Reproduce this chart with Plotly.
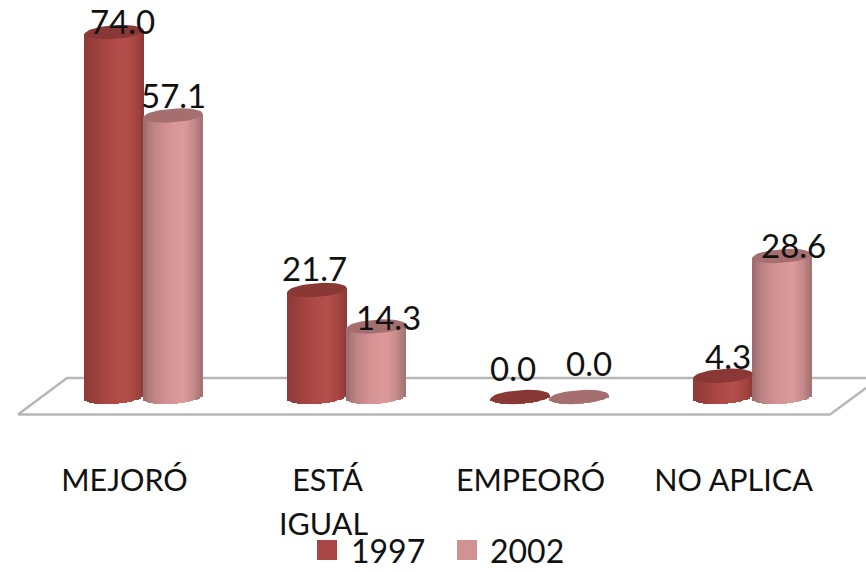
import math
import plotly.graph_objects as go

# ---- data ----
categories = ["MEJORÓ", "ESTÁ<br>IGUAL", "EMPEORÓ", "NO APLICA"]
series_names = ["1997", "2002"]
values_1997 = [74.0, 21.7, 0.0, 4.3]
values_2002 = [57.1, 14.3, 0.0, 28.6]

# ---- layout / style ----
W, H = 866, 572
PLOT_H = 445
FONT = "Lato"
FS = 30.5
FS_NUM = 33
FS_LEGEND = 32
PX_X0, PX_PER_CAT = 143.5, 203.0
PX_Y0, PX_PER_UNIT = 397.0, 4.93
x_range = [-PX_X0 / PX_PER_CAT, (W - PX_X0) / PX_PER_CAT]
y_range = [(PX_Y0 - PLOT_H) / PX_PER_UNIT, PX_Y0 / PX_PER_UNIT]
OFFSET = 0.145
HALF = 0.146
ELL_B = 1.4
TILT = 0.4
N_STRIPS = 24

ramps = {
    "1997": [(-1, "#8c3b3a"), (-0.7, "#973e3c"), (-0.3, "#a84543"), (0.35, "#b54f4b"), (0.75, "#a5443f"), (1, "#8a3a38")],
    "2002": [(-1, "#9a6a6a"), (-0.7, "#bb8283"), (-0.2, "#d49293"), (0.35, "#dd9a9b"), (0.75, "#c08787"), (1, "#a27070")],
}
top_colors = {"1997": "#8a3835", "2002": "#a56f70"}
legend_colors = {"1997": "#a94543", "2002": "#d09292"}
# legend placement, pixels: swatch left edge, text left edge
legend_pos = {"1997": (317, 349), "2002": (457, 488)}
# label offsets from the cap centre, pixels (dx, dy)
label_shift = {
    "1997": [(8, 11), (-2.5, 22), (-7, 29), (4.5, 20)],
    "2002": [(1, 21), (13, 9.5), (10, 34), (12, 11)],
}


def hex2rgb(h):
    return [int(h[i:i + 2], 16) for i in (1, 3, 5)]


def ramp_color(stops, t):
    for (t0, c0), (t1, c1) in zip(stops, stops[1:]):
        if t <= t1:
            f = (t - t0) / (t1 - t0)
            a, b = hex2rgb(c0), hex2rgb(c1)
            return "rgb(%d,%d,%d)" % tuple(round(p + (q - p) * f) for p, q in zip(a, b))
    return stops[-1][1]


def px(x):
    return x / W


def py(y):
    return 1 - y / H


fig = go.Figure()
series = [("1997", values_1997, -OFFSET), ("2002", values_2002, OFFSET)]
annotations = []
shapes = []

floor = "M {} {} L {} {} L {} {} M {} {} L {} {} L {} {}".format(
    px(866), py(388), px(830), py(414.5), px(18), py(414.5),
    px(18), py(414.5), px(67), py(378), px(866), py(378))
shapes.append(dict(type="path", xref="paper", yref="paper", path=floor, layer="below",
                   line=dict(color="#b7b7b7", width=2.5)))

for name, vals, off in series:
    # cylinder side drawn as narrow vertical bars
    for i in range(N_STRIPS):
        t = -1 + (2 * i + 1) / N_STRIPS
        base = -ELL_B * math.sqrt(max(0.0, 1 - t * t)) + TILT * t
        fig.add_trace(go.Bar(
            x=[k + off + t * HALF for k in range(len(categories))],
            y=[v - base + TILT * t for v in vals],
            base=[base] * len(vals),
            width=2 * HALF / N_STRIPS * 1.15,
            marker=dict(color=ramp_color(ramps[name], t), line=dict(width=0)),
            name=name, showlegend=False, hoverinfo="skip",
        ))

for name, vals, off in series:
    # elliptical caps
    xs, ys = [], []
    for k, v in enumerate(vals):
        for j in range(49):
            a = 2 * math.pi * j / 48
            c, s = math.cos(a), math.sin(a)
            xs.append(k + off + HALF * c)
            ys.append(v + ELL_B * s + TILT * c)
        xs.append(None)
        ys.append(None)
    fig.add_trace(go.Scatter(
        x=xs, y=ys, mode="lines", fill="toself", fillcolor=top_colors[name],
        line=dict(width=0, color=top_colors[name]), name=name, showlegend=False, hoverinfo="skip",
    ))
    # value labels
    for k, v in enumerate(vals):
        dx, dy = label_shift[name][k]
        annotations.append(dict(
            x=k + off, y=v, xref="x", yref="y", text=f"{v:.1f}", showarrow=False,
            xshift=dx, yshift=dy, xanchor="center", yanchor="middle",
            font=dict(family=FONT, size=FS_NUM, color="#111111"),
        ))
    # legend entry: swatch and text
    sx, tx = legend_pos[name]
    shapes.append(dict(type="rect", xref="paper", yref="paper", x0=px(sx), x1=px(sx + 20),
                       y0=py(560), y1=py(540), fillcolor=legend_colors[name], line=dict(width=0)))
    annotations.append(dict(
        x=px(tx), y=py(550.5), xref="paper", yref="paper", text=name, showarrow=False,
        xanchor="left", yanchor="middle", font=dict(family=FONT, size=FS_LEGEND, color="#111111"),
    ))

first_lines = [c.split("<br>")[0] for c in categories]
for k, c in enumerate(categories):
    for line in c.split("<br>")[1:]:
        annotations.append(dict(
            x=k, y=(H - PLOT_H) / H, xref="x", yref="paper", text=line, showarrow=False,
            xshift=-23, yshift=-78, xanchor="center", yanchor="middle",
            font=dict(family=FONT, size=FS, color="#111111"),
        ))

fig.update_layout(
    width=W, height=H, autosize=False, showlegend=False,
    margin=dict(l=0, r=0, t=0, b=0, pad=0),
    paper_bgcolor="white", plot_bgcolor="white",
    barmode="overlay", bargap=0,
    font=dict(family=FONT, size=FS, color="#111111"),
    xaxis=dict(range=x_range, tickmode="array", tickvals=list(range(len(categories))),
               ticktext=first_lines, showgrid=False, zeroline=False, showline=False,
               ticks="", ticklabelshift=-19, ticklabelstandoff=14,
               tickfont=dict(family=FONT, size=FS, color="#111111"), fixedrange=True),
    yaxis=dict(range=y_range, domain=[(H - PLOT_H) / H, 1], visible=False, fixedrange=True),
    shapes=shapes,
    annotations=annotations,
)
fig.write_html("out.html", config={"displayModeBar": False},
               post_script="document.body.style.margin='0';document.documentElement.style.overflow='hidden';")
